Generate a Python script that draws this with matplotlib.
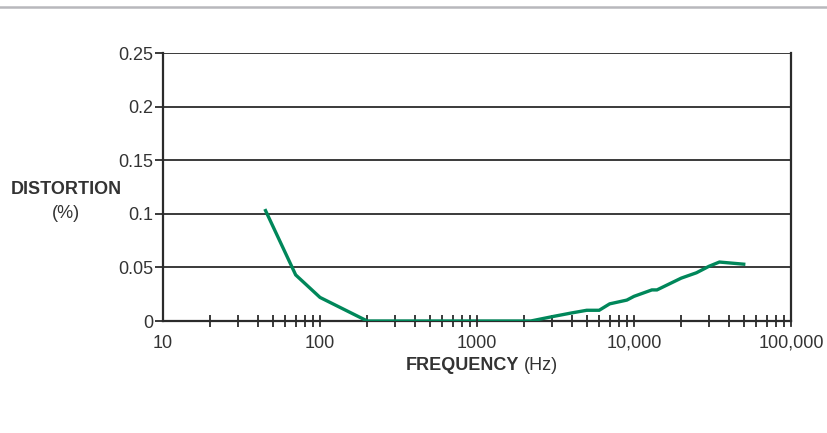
import matplotlib
matplotlib.use('Agg')
from matplotlib import pyplot as plt
from matplotlib.lines import Line2D
from matplotlib.ticker import FixedLocator, NullFormatter

plt.rcParams['font.family'] = ['Liberation Sans', 'DejaVu Sans']

freq_hz = [45, 70, 100, 200, 500, 1000, 2200, 3000, 4000, 5000, 6000, 7000,
           9000, 10000, 13000, 14000, 20000, 25000, 30000, 35000, 50000]
distortion_pct = [0.103, 0.043, 0.022, 0.0, 0.0, 0.0, 0.0, 0.004, 0.0075, 0.010,
                  0.010, 0.016, 0.0195, 0.023, 0.029, 0.029, 0.040, 0.045,
                  0.051, 0.055, 0.053]

y_ticks = [0, 0.05, 0.1, 0.15, 0.2, 0.25]
y_labels = ['0', '0.05', '0.1', '0.15', '0.2', '0.25']
x_ticks = [10, 100, 1000, 10000, 100000]
x_labels = ['10', '100', '1000', '10,000', '100,000']

fig = plt.figure(figsize=(8.28, 4.33), dpi=100)
ax = fig.add_axes([163 / 828, 1 - 321 / 433, 628 / 828, 268 / 433])

dark = '#2b2b2b'
txt = '#333333'
fs = 13

ax.set_xscale('log')
ax.set_xlim(10, 100000)
ax.set_ylim(0, 0.25)

for y in y_ticks[1:]:
    ax.axhline(y, color=dark, lw=1.3, zorder=1)

ax.plot(freq_hz, distortion_pct, color='#00875a', lw=2.4,
        solid_joinstyle='miter', zorder=3)

for side in ['left', 'right', 'bottom']:
    ax.spines[side].set_color(dark)
    ax.spines[side].set_linewidth(1.6)
ax.spines['top'].set_visible(False)

ax.set_yticks(y_ticks)
ax.set_yticklabels(y_labels)
ax.set_xticks(x_ticks)
ax.set_xticklabels(x_labels)
minor = [m * 10 ** d for d in range(1, 5) for m in range(2, 10)]
ax.xaxis.set_minor_locator(FixedLocator(minor))
ax.xaxis.set_minor_formatter(NullFormatter())

ax.tick_params(axis='y', length=5.5, width=1.3, color=dark, labelsize=fs,
               labelcolor=txt, pad=1.5)
ax.tick_params(axis='x', which='major', length=0, labelsize=fs,
               labelcolor=txt, pad=10)
ax.tick_params(axis='x', which='minor', direction='inout', length=8,
               width=1.3, color=dark)
# decade ticks also cross the axis (except the one at 10)
for xv in x_ticks[1:]:
    ax.plot([xv, xv], [-0.005, 0.005], color=dark, lw=1.3,
            clip_on=False, zorder=4)

fig.text(66 / 828, 1 - 190 / 433, 'DISTORTION', ha='center', va='center',
         fontsize=fs, fontweight='bold', color=txt)
fig.text(66 / 828, 1 - 213 / 433, '(%)', ha='center', va='center',
         fontsize=fs, color=txt)

fig.text(519 / 828, 1 - 366 / 433, 'FREQUENCY', ha='right', va='center',
         fontsize=fs, fontweight='bold', color=txt)
fig.text(524 / 828, 1 - 366 / 433, '(Hz)', ha='left', va='center',
         fontsize=fs, color=txt)

fig.add_artist(Line2D([0, 1], [1 - 7 / 433, 1 - 7 / 433], color='#b8b8bc',
                      lw=1.8, transform=fig.transFigure))

fig.savefig('out.png', dpi=100)
